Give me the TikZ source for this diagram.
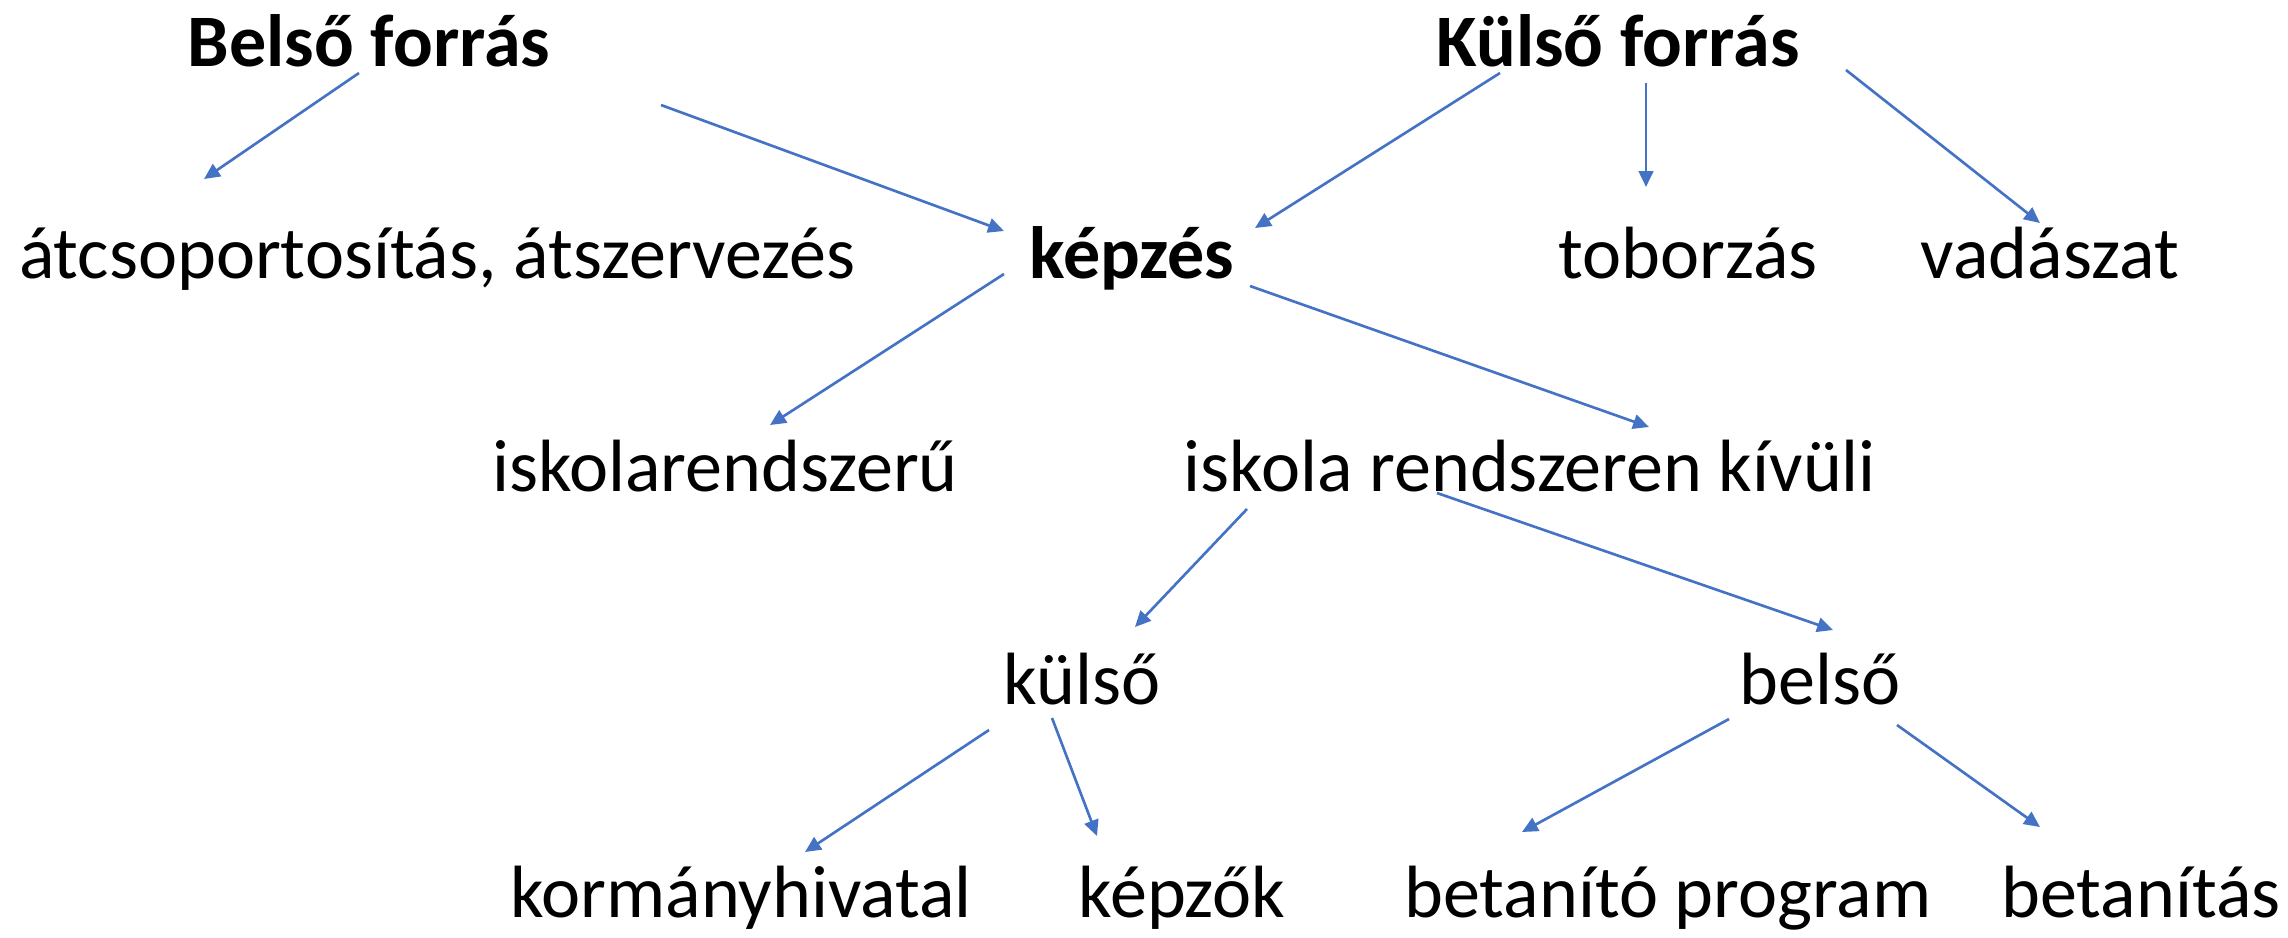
\documentclass[tikz,border=0pt]{standalone}
\usepackage{fontspec}
\setmainfont{Carlito}
\usepackage{tikz}
\usetikzlibrary{calc,arrows.meta}
\definecolor{nyilkek}{RGB}{68,114,196}

\begin{document}
\begin{tikzpicture}[
  x=0.378pt, y=-0.378pt,
  cimke/.style={inner sep=0pt,anchor=base,font=\fontsize{28}{34}\selectfont},
  kiemelt/.style={cimke,font=\fontsize{28}{34}\selectfont\bfseries},
  nyil/.style={->,draw=nyilkek,line width=1pt},
  >={Triangle[length=6pt,width=5.5pt]}
  ]
  \useasboundingbox (0,0) rectangle (2288,937);

  \node [kiemelt] (BF) at (369,66) {Belső forrás};
  \node [kiemelt] (KF) at (1618,66) {Külső forrás};

  \node [cimke] (ATCS) at (437,278) {átcsoportosítás, átszervezés};
  \node [kiemelt] (KEP) at (1132,278) {képzés};
  \node [cimke] (TOB) at (1688,278) {toborzás};
  \node [cimke] (VAD) at (2050,278) {vadászat};

  \node [cimke] (ISKR) at (725,491) {iskolarendszerű};
  \node [cimke] (ISKK) at (1530,491) {iskola rendszeren kívüli};

  \node [cimke] (KUL) at (1082,704) {külső};
  \node [cimke] (BEL) at (1820,704) {belső};

  \node [cimke] (KORM) at (741,917) {kormányhivatal};
  \node [cimke] (KEPZ) at (1182,917) {képzők};
  \node [cimke] (BPROG) at (1668,917) {betanító program};
  \node [cimke] (BTAN) at (2141,917) {betanítás};

  \draw[nyil] ($(BF.base)+(-10,7)$) -- ($(ATCS.base)+(-233,-99)$);
  \draw[nyil] ($(BF.base)+(292,39)$) -- ($(KEP.base)+(-128,-47)$);
  \draw[nyil] ($(KF.base)+(-118,7)$) -- ($(KEP.base)+(123,-50)$);
  \draw[nyil] ($(KF.base)+(28,17)$) -- ($(TOB.base)+(-42,-91)$);
  \draw[nyil] ($(KF.base)+(228,4)$) -- ($(VAD.base)+(-10,-55)$);

  \draw[nyil] ($(KEP.base)+(-128,-4)$) -- ($(ISKR.base)+(45,-66)$);
  \draw[nyil] ($(KEP.base)+(118,8)$) -- ($(ISKK.base)+(119,-64)$);

  \draw[nyil] ($(ISKK.base)+(-283,18)$) -- ($(KUL.base)+(53,-77)$);
  \draw[nyil] ($(ISKK.base)+(-93,2)$) -- ($(BEL.base)+(13,-74)$);

  \draw[nyil] ($(KUL.base)+(-93,26)$) -- ($(KORM.base)+(64,-65)$);
  \draw[nyil] ($(KUL.base)+(-30,14)$) -- ($(KEPZ.base)+(-85,-81)$);
  \draw[nyil] ($(BEL.base)+(-91,15)$) -- ($(BPROG.base)+(-146,-85)$);
  \draw[nyil] ($(BEL.base)+(77,21)$) -- ($(BTAN.base)+(-101,-90)$);
\end{tikzpicture}
\end{document}
